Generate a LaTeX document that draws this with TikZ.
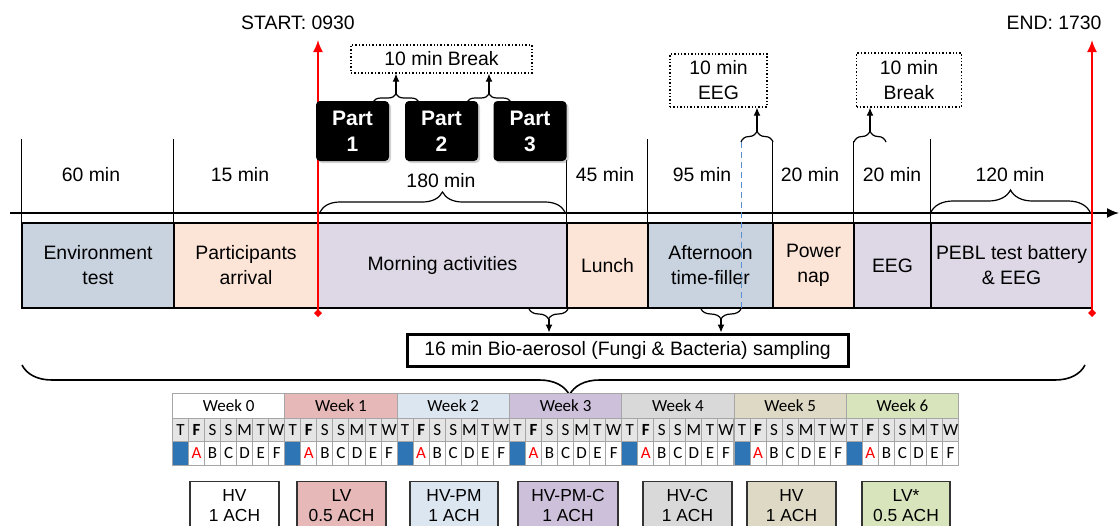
\documentclass[tikz,border=0pt]{standalone}
\usepackage{fontspec}
\setmainfont{Liberation Sans}
\newfontfamily\tablefont{Carlito}
\usepackage{tikz}
\usetikzlibrary{decorations.pathreplacing, shadows, arrows.meta}
\definecolor{envblue}{HTML}{C9D3E0}
\definecolor{peach}{HTML}{FCE4D6}
\definecolor{lilac}{HTML}{DDD7E6}
\definecolor{wkpink}{HTML}{E6B8B7}
\definecolor{wkblue}{HTML}{DCE6F1}
\definecolor{wklilac}{HTML}{CCC0DA}
\definecolor{wkgray}{HTML}{D9D9D9}
\definecolor{wkbeige}{HTML}{DDD9C4}
\definecolor{wkgreen}{HTML}{D8E4BC}
\definecolor{dayblue}{HTML}{2E75B6}
\definecolor{gridgray}{HTML}{A6A6A6}
\definecolor{dashblue}{HTML}{5B8FD0}
\tikzset{
  phase/.style={draw, line width=0.75pt, align=center, inner sep=0pt, font=\fontsize{9.7}{12.5}\selectfont},
  part/.style={fill=black, rounded corners=2pt, text=white, align=center, inner sep=0pt,
    font=\fontsize{10.5}{13}\selectfont\bfseries, minimum width=36.5pt, minimum height=30pt,
    drop shadow={opacity=0.35, shadow xshift=1pt, shadow yshift=-1pt}},
  note/.style={draw, densely dotted, line width=0.7pt, align=center, inner sep=0pt, font=\fontsize{9.7}{12.5}\selectfont},
  curly/.style={decorate, decoration={brace, amplitude=#1}, line width=0.6pt},
  pointer/.style={-{Latex[length=4pt, width=3.5pt]}, line width=0.6pt},
  cell/.style={draw=gridgray, line width=0.5pt, inner sep=0pt, anchor=north west, font=\tablefont\fontsize{8.5}{9}\selectfont},
  cond/.style={draw=black!80, line width=0.6pt, align=center, inner sep=0pt, minimum height=24pt, anchor=north, font=\fontsize{8.7}{10}\selectfont},
}

\begin{document}
\begin{tikzpicture}[x=0.5pt, y=-0.5pt]
\clip (0,0) rectangle (1119,525);
% timeline
\foreach \l/\r/\col/\txt [count=\i] in {22/174/envblue/{Environment\\test}, 174/318/peach/{Participants\\arrival},
    318/567/lilac/{Morning activities}, 567/648/peach/Lunch, 648/773/envblue/{Afternoon\\time-filler},
    773/854/peach/{Power\\nap}, 854/931/lilac/EEG, 931/1092/lilac/{PEBL test battery\\\& EEG}} {
    \pgfmathsetmacro{\bw}{(\r-\l)/2}
    \node[phase, fill=\col, minimum width=\bw pt, minimum height=42.5pt] (ph\i) at ({(\l+\r)/2}, 265.5) {\txt};
}
\coordinate (ax0) at (10,213);
\coordinate (ax1) at (1119,213);
\draw[line width=0.9pt, -{Latex[length=6pt, width=5pt]}] (ax0) -- (ax1);
\foreach \i/\h in {1/83, 2/83, 4/62, 5/83, 6/81, 7/81, 8/83}
    \draw[line width=0.5pt] (ph\i.north west) -- ++(0,-\h);
\foreach \x/\t [count=\i] in {91/60 min, 240/15 min, 605/45 min, 702/95 min, 810/20 min, 892/20 min, 1010/120 min}
    \node[font=\fontsize{9.7}{12}\selectfont] (du\i) at (\x,175) {\t};
\node[font=\fontsize{9.7}{12}\selectfont] (du0) at (441,181) {180 min};
% start / end
\node[font=\fontsize{9.7}{12}\selectfont] (start) at (298,23) {START: 0930};
\node[font=\fontsize{9.7}{12}\selectfont] (end) at (1054,23) {END: 1730};
\coordinate (s0) at (318,317); \coordinate (s1) at (318,40);
\coordinate (e0) at (1092,317); \coordinate (e1) at (1092,40);
\draw[red, line width=0.9pt, {Diamond[length=4pt, width=4pt]}-{Latex[length=6pt, width=5pt]}] (s0) -- (s1);
\draw[red, line width=0.9pt, {Diamond[length=4pt, width=4pt]}-{Latex[length=6pt, width=5pt]}] (e0) -- (e1);
% morning parts
\node[part] (p1) at (352.5,131) {Part\\1};
\node[part] (p2) at (441.5,131) {Part\\2};
\node[part] (p3) at (530,131) {Part\\3};
\node[note, minimum width=90.5pt, minimum height=14pt] (brk1) at (441.5,59) {10 min Break};
\node[note, minimum width=48.5pt, minimum height=26.5pt] (eeg) at (718.5,80.5) {10 min\\EEG};
\node[note, minimum width=52.5pt, minimum height=27pt] (brk2) at (909,80) {10 min\\Break};
\draw[curly=4pt] (373,102) -- (419,102);
\draw[curly=4pt] (467,102) -- (511,102);
\coordinate (k1) at (396,94); \coordinate (k2) at (489,94);
\draw[pointer] (k1) -- (k1 |- brk1.south);
\draw[pointer] (k2) -- (k2 |- brk1.south);
\draw[curly=10pt] (320,212) -- (565,212);
\draw[curly=11pt] (931,212) -- (1090,212);
% afternoon notes
\draw[curly=5.5pt] (741,142) -- (773,142);
\draw[curly=5.5pt] (854,142) -- (886,142);
\coordinate (k3) at (757,131); \coordinate (k4) at (870,131);
\draw[pointer] (k3) -- (k3 |- eeg.south);
\draw[pointer] (k4) -- (k4 |- brk2.south);
\draw[dashblue, densely dashed, line width=0.5pt] (741,142) -- (741,308);
% sampling
\node[phase, line width=1.5pt, minimum width=220.5pt, minimum height=16pt] (bio) at (627.5,350)
    {16 min Bio-aerosol (Fungi \& Bacteria) sampling};
\draw[curly=5pt] (568,309) -- (529,309);
\draw[curly=5pt] (741,309) -- (701,309);
\coordinate (k5) at (549,319); \coordinate (k6) at (721,319);
\draw[pointer] (k5) -- (k5 |- bio.north);
\draw[pointer] (k6) -- (k6 |- bio.north);
\draw[decorate, decoration={brace, amplitude=15pt, aspect=0.485}, line width=0.8pt] (1085,365) -- (22,365);
% weeks
\foreach \wk/\col in {0/white, 1/wkpink, 2/wkblue, 3/wklilac, 4/wkgray, 5/wkbeige, 6/wkgreen} {
    \pgfmathsetmacro{\xw}{172+\wk*112.3}
    \node[cell, fill=\col, minimum width=56.15pt, minimum height=12.5pt, font=\tablefont\fontsize{8.5}{9}\selectfont] (wk\wk) at (\xw,393) {Week \wk};
    \foreach \d/\day/\lt in {0/T/{}, 1/{\textbf{F}}/{\textcolor{red}{A}}, 2/S/B, 3/S/C, 4/M/D, 5/T/E, 6/W/F} {
        \node[cell, fill=black!10, minimum width=8.02pt, minimum height=11.5pt] (dy\wk\d) at (\xw+\d*16.04,418) {\day};
        \ifnum\d=0
            \node[cell, fill=dayblue, minimum width=8.02pt, minimum height=12pt] (lt\wk\d) at (\xw+\d*16.04,441) {};
        \else
            \node[cell, fill=white, minimum width=8.02pt, minimum height=12pt] (lt\wk\d) at (\xw+\d*16.04,441) {\lt};
        \fi
    }
}
% conditions
\foreach \x/\bw/\col/\txt [count=\i] in {234.5/44.5/white/{HV\\1 ACH}, 341.5/44.5/wkpink/{LV\\0.5 ACH},
    454/44/wkblue/{HV-PM\\1 ACH}, 568/50/wklilac/{HV-PM-C\\1 ACH}, 687.5/44.5/wkgray/{HV-C\\1 ACH},
    791.5/44.5/wkbeige/{HV\\1 ACH}, 906/44/wkgreen/{LV*\\0.5 ACH}}
    \node[cond, fill=\col, minimum width=\bw pt] (co\i) at (\x,481) {\txt};
\end{tikzpicture}
\end{document}
